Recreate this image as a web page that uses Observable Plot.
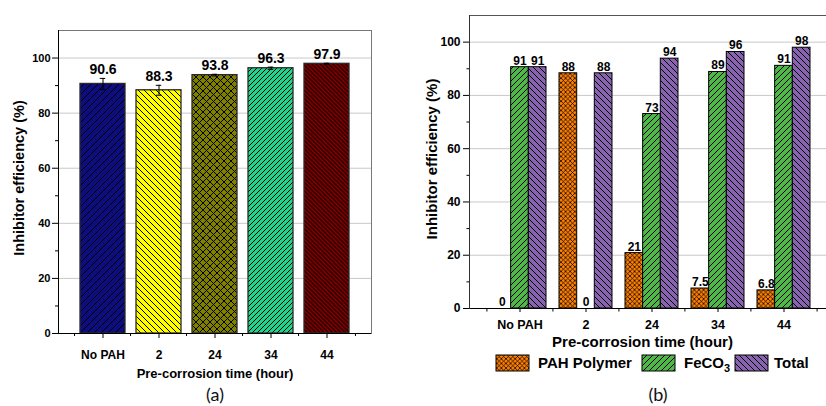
<!DOCTYPE html>
<html>
<head>
<meta charset="utf-8">
<script src="https://cdn.jsdelivr.net/npm/d3@7"></script>
<script src="https://cdn.jsdelivr.net/npm/@observablehq/plot@0.6"></script>
<style>
  html, body { margin: 0; padding: 0; background: #fff; }
  body { width: 826px; height: 406px; overflow: hidden; position: relative; font-family: "Liberation Sans", Arial, sans-serif; }
  #panelA { position: absolute; left: 0; top: 0; }
  #panelB { position: absolute; left: 400px; top: 0; width: 426px; height: 360px; overflow: hidden; }
  #panelA svg, #panelB svg { max-width: none !important; }
  #overlay { position: absolute; left: 0; top: 0; }
</style>
</head>
<body>
<svg id="defs" width="0" height="0" style="position:absolute"><defs id="patdefs"></defs></svg>
<div id="panelA"></div>
<div id="panelB"></div>
<svg id="overlay" width="826" height="406"></svg>
<script>
// ---------- data ----------
const catsA = ["No PAH", "2", "24", "34", "44"];
const effA = [90.6, 88.3, 93.8, 96.3, 97.9];
const errA = [2.0, 1.8, 0.3, 0.4, 0.2];
const labelsA = ["90.6", "88.3", "93.8", "96.3", "97.9"];
const colorsA = ["#0d0d7d", "#ffff00", "#7f7f00", "#22d38c", "#7f0000"];

const groupsB = ["No PAH", "2", "24", "34", "44"];
const seriesB = ["PAH Polymer", "FeCO3", "Total"];
const pahB = [0, 88.3, 20.8, 7.5, 6.8];
const feco3B = [90.6, 0, 73.0, 88.8, 91.1];
const totalB = [90.6, 88.3, 93.8, 96.3, 97.9];
const pahLbl = ["0", "88", "21", "7.5", "6.8"];
const feco3Lbl = ["91", "0", "73", "89", "91"];
const totalLbl = ["91", "88", "94", "96", "98"];
const colorsB = ["#ff7f00", "#4fb848", "#8763b0"];

const yTicks = [0, 20, 40, 60, 80, 100];
const yMinor = [10, 30, 50, 70, 90];
const xTitle = "Pre-corrosion time (hour)";
const yTitle = "Inhibitor efficiency (%)";

// ---------- patterns ----------
const NS = "http://www.w3.org/2000/svg";
function hatch(id, bg, s, dir, sw) {
  let d = "";
  const f = `M0,${s} L${s},0 M${-s/2},${s/2} L${s/2},${-s/2} M${s/2},${s*1.5} L${s*1.5},${s/2}`;
  const b = `M0,0 L${s},${s} M${-s/2},${s/2} L${s/2},${s*1.5} M${s/2},${-s/2} L${s*1.5},${s/2}`;
  if (dir === "/") d = f; else if (dir === "\\") d = b; else d = f + " " + b;
  const p = document.createElementNS(NS, "pattern");
  p.setAttribute("id", id);
  p.setAttribute("patternUnits", "userSpaceOnUse");
  p.setAttribute("width", s);
  p.setAttribute("height", s);
  p.innerHTML = `<rect width="${s}" height="${s}" fill="${bg}"/><path d="${d}" stroke="#000" stroke-width="${sw}" fill="none"/>`;
  document.getElementById("patdefs").appendChild(p);
}
const patA = [["/", 7, 1], ["\\", 6, 1], ["x", 7, 1], ["/", 5, 1], ["\\", 4.2, 1]];
colorsA.forEach((c, i) => hatch(`pA${i}`, c, patA[i][1], patA[i][0], patA[i][2]));
const patB = [["x", 4.6, 0.75], ["/", 6, 1], ["\\", 6, 1]];
colorsB.forEach((c, i) => hatch(`pB${i}`, c, patB[i][1], patB[i][0], patB[i][2]));

const font = "'Liberation Sans', Arial, sans-serif";

// ---------- panel (a) ----------
const A = catsA.map((c, i) => ({cat: c, v: effA[i], e: errA[i], lbl: labelsA[i], fill: `url(#pA${i})`}));
const WA = 400, HA = 385, mlA = 58, mrA = 29, mtA = 30, mbA = 52;
const stepA = (WA - mlA - mrA) / (catsA.length - 0.2 + 0.7);
const bwA = stepA * 0.8;
const plotA = Plot.plot({
  width: WA, height: HA, marginLeft: mlA, marginRight: mrA, marginTop: mtA, marginBottom: mbA,
  style: {fontFamily: font, fontWeight: "bold", color: "#000", background: "transparent", maxWidth: "none"},
  x: {domain: catsA, paddingInner: 0.2, paddingOuter: 0.35, axis: null},
  y: {domain: [0, 110], axis: null},
  color: {type: "identity"},
  marks: [
    Plot.gridY(yTicks.filter(t => t > 0), {stroke: "#c8c8c8", strokeOpacity: 1}),
    Plot.frame({stroke: "#777"}),
    Plot.barY(A, {x: "cat", y: "v", fill: "fill", stroke: "#2a2a2a", strokeWidth: 1.3}),
    Plot.ruleX(A, {x: "cat", y1: d => d.v - d.e, y2: d => d.v + d.e, stroke: "#000", strokeWidth: 1}),
    Plot.tickY(A, {x: "cat", y: d => d.v + d.e, insetLeft: bwA / 2 - 3, insetRight: bwA / 2 - 3, stroke: "#000"}),
    Plot.tickY(A, {x: "cat", y: d => d.v - d.e, insetLeft: bwA / 2 - 3, insetRight: bwA / 2 - 3, stroke: "#000"}),
    Plot.text(A, {x: "cat", y: d => d.v + d.e, text: "lbl", dy: -4, lineAnchor: "bottom", fontSize: 14, fontWeight: "bold", fill: "#000"}),
    Plot.ruleY([0], {stroke: "#000", strokeWidth: 1.2}),
    Plot.frame({anchor: "left", stroke: "#000"}),
    Plot.axisY({ticks: yTicks, tickSize: 6, tickPadding: 2, fontSize: 11, fontWeight: "bold", label: null}),
    Plot.axisY({ticks: yMinor, tickSize: 3, tickFormat: () => "", label: null}),
    Plot.axisX({tickSize: 5, tickPadding: 11.5, fontSize: 12, fontWeight: "bold", label: null}),
    Plot.axisX({ticks: catsA, tickSize: 3, dx: -stepA / 2, tickFormat: () => "", label: null}),
    Plot.axisX({ticks: [catsA[catsA.length - 1]], tickSize: 3, dx: stepA / 2, tickFormat: () => "", label: null}),
    Plot.text([xTitle], {frameAnchor: "bottom", textAnchor: "middle", dy: 44, lineAnchor: "bottom", fontSize: 13, fontWeight: "bold", fill: "#000"}),
    Plot.text([yTitle], {frameAnchor: "left", textAnchor: "middle", rotate: -90, dx: -35, dy: -4, lineAnchor: "bottom", fontSize: 14.5, fontWeight: "bold", fill: "#000"})
  ]
});
document.getElementById("panelA").appendChild(plotA);

// ---------- panel (b) ----------
const mk = (vals, lbls) => groupsB.map((g, i) => ({g, v: vals[i], lbl: lbls[i]}));
const B0 = mk(pahB, pahLbl), B1 = mk(feco3B, feco3Lbl), B2 = mk(totalB, totalLbl);
const WB = 433, HB = 352, mlB = 69, mrB = 0, mtB = 15, mbB = 44;
const stepB = (WB - mlB - mrB) / (groupsB.length - 0.2 + 0.7);
const bwB = stepB * 0.8;
const sub = bwB / 3;
const lblOpts = {dy: -2.5, lineAnchor: "bottom", fontSize: 12, fontWeight: "bold", fill: "#000"};
const plotB = Plot.plot({
  width: WB, height: HB, marginLeft: mlB, marginRight: mrB, marginTop: mtB, marginBottom: mbB,
  style: {fontFamily: font, fontWeight: "bold", color: "#000", background: "transparent", maxWidth: "none"},
  x: {domain: groupsB, paddingInner: 0.2, paddingOuter: 0.35, axis: null},
  y: {domain: [0, 110], axis: null},
  marks: [
    Plot.gridY(yTicks.filter(t => t > 0), {stroke: "#c8c8c8", strokeOpacity: 1}),
    Plot.frame({stroke: "#555"}),
    Plot.barY(B0.filter(d => d.v > 0), {x: "g", y: "v", insetLeft: 0, insetRight: 2 * sub, fill: "url(#pB0)", stroke: "#000", strokeWidth: 1}),
    Plot.barY(B1.filter(d => d.v > 0), {x: "g", y: "v", insetLeft: sub, insetRight: sub, fill: "url(#pB1)", stroke: "#000", strokeWidth: 1}),
    Plot.barY(B2.filter(d => d.v > 0), {x: "g", y: "v", insetLeft: 2 * sub, insetRight: 0, fill: "url(#pB2)", stroke: "#000", strokeWidth: 1}),
    Plot.text(B0, {x: "g", y: "v", text: "lbl", dx: -sub, ...lblOpts}),
    Plot.text(B1, {x: "g", y: "v", text: "lbl", dx: 0, ...lblOpts}),
    Plot.text(B2, {x: "g", y: "v", text: "lbl", dx: sub, ...lblOpts}),
    Plot.ruleY([0], {stroke: "#000", strokeWidth: 1.2}),
    Plot.frame({anchor: "left", stroke: "#333"}),
    Plot.axisY({ticks: yTicks, tickSize: 6, tickPadding: 3, fontSize: 12, fontWeight: "bold", label: null}),
    Plot.axisY({ticks: yMinor, tickSize: 2.5, tickFormat: () => "", label: null}),
    Plot.axisX({tickSize: 4, tickPadding: 8, fontSize: 12.5, fontWeight: "bold", label: null}),
    Plot.axisX({ticks: groupsB, tickSize: 3.5, dx: -stepB / 2, tickFormat: () => "", label: null}),
    Plot.axisX({ticks: [groupsB[groupsB.length - 1]], tickSize: 3.5, dx: stepB / 2, tickFormat: () => "", label: null}),
    Plot.text([xTitle], {frameAnchor: "bottom", textAnchor: "middle", dx: -9, dy: 38.5, lineAnchor: "bottom", fontSize: 15, fontWeight: "bold", fill: "#000"}),
    Plot.text([yTitle], {frameAnchor: "left", textAnchor: "middle", rotate: -90, dx: -33, dy: -3, lineAnchor: "bottom", fontSize: 15, fontWeight: "bold", fill: "#000"})
  ]
});
document.getElementById("panelB").appendChild(plotB);

// ---------- legend & captions ----------
const ov = document.getElementById("overlay");
const legendX = [[496, 538], [642, 684], [735, 774]];
let html = "";
seriesB.forEach((s, i) => {
  const [sx, tx] = legendX[i];
  html += `<rect x="${sx}" y="355" width="33" height="16" fill="url(#pB${i})" stroke="#000" stroke-width="1"/>`;
  const m = s.match(/^(.*?)(\d)$/);
  const label = m ? `${m[1]}<tspan font-size="11" dy="4">${m[2]}</tspan>` : s;
  html += `<text x="${tx}" y="368" font-family="${font.replace(/'/g, "")}" font-weight="bold" font-size="15" fill="#000">${label}</text>`;
});
html += `<text x="215" y="401" text-anchor="middle" font-family="Lato, 'Open Sans', sans-serif" font-size="18" fill="#111">(a)</text>`;
html += `<text x="658" y="401" text-anchor="middle" font-family="Lato, 'Open Sans', sans-serif" font-size="18" fill="#111">(b)</text>`;
ov.innerHTML = html;
</script>
</body>
</html>
